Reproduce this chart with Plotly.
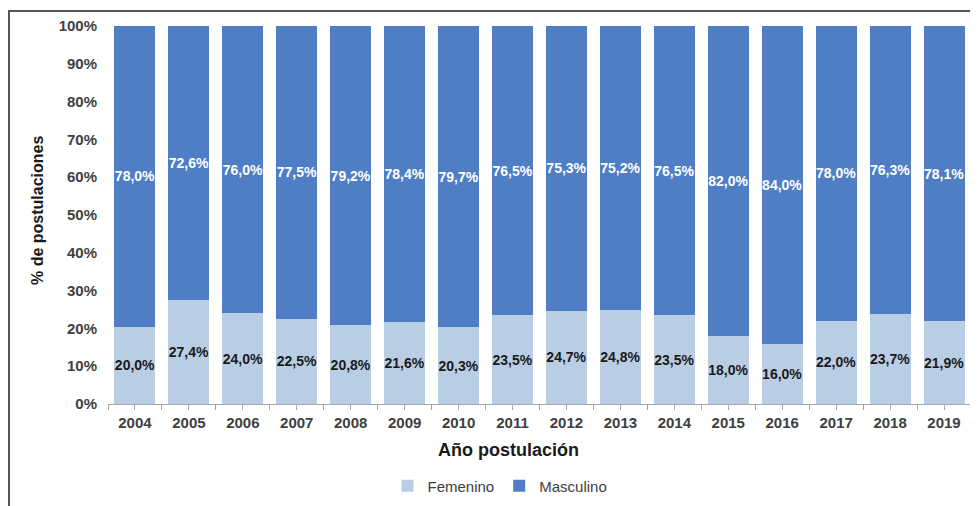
import plotly.graph_objects as go

years = [2004, 2005, 2006, 2007, 2008, 2009, 2010, 2011, 2012, 2013, 2014, 2015, 2016, 2017, 2018, 2019]
femenino = [20.0, 27.4, 24.0, 22.5, 20.8, 21.6, 20.3, 23.5, 24.7, 24.8, 23.5, 18.0, 16.0, 22.0, 23.7, 21.9]
masculino = [78.0, 72.6, 76.0, 77.5, 79.2, 78.4, 79.7, 76.5, 75.3, 75.2, 76.5, 82.0, 84.0, 78.0, 76.3, 78.1]
y_ticks = [0, 10, 20, 30, 40, 50, 60, 70, 80, 90, 100]


def fmt(v):
    return f"{v:.1f}%".replace(".", ",")


FONT = "Liberation Sans, Arial, sans-serif"
OFF = 8  # page body margin of the html page
W, H = 978 - OFF, 506 - OFF
PLOT_L, PLOT_R, PLOT_T, PLOT_B = 108, 971, 26, 404  # page coords
L = PLOT_L - OFF
T = PLOT_T - OFF
R = W - (PLOT_R - OFF)
B = H - (PLOT_B - OFF)
PW = W - L - R
PH = H - T - B


def px(xp):
    return (xp - OFF - L) / PW


def py(yp):
    return ((PLOT_B - OFF) - (yp - OFF)) / PH


fig = go.Figure()
fig.add_trace(go.Bar(
    x=years, y=femenino, name="Femenino",
    marker=dict(color="#B9CDE5", line=dict(width=0)),
    text=[fmt(v) for v in femenino], textposition="inside",
    insidetextanchor="middle", textangle=0, constraintext="none",
    textfont=dict(family=FONT, size=14, color="#1a1a1a", weight="bold"),
    hoverinfo="skip",
))
fig.add_trace(go.Bar(
    x=years, y=masculino, name="Masculino",
    marker=dict(color="#4F7EC4", line=dict(width=0)),
    text=[fmt(v) for v in masculino], textposition="inside",
    insidetextanchor="middle", textangle=0, constraintext="none",
    textfont=dict(family=FONT, size=14, color="white", weight="bold"),
    hoverinfo="skip",
))

fig.update_layout(
    width=W, height=H,
    barmode="stack", barnorm="percent", bargap=0.24,
    margin=dict(l=L, r=R, t=T, b=B, pad=0, autoexpand=False),
    paper_bgcolor="white", plot_bgcolor="white",
    font=dict(family=FONT, color="#404040"),
    showlegend=True,
    legend=dict(
        orientation="h", x=px(500), xanchor="center",
        y=py(486), yanchor="middle", traceorder="normal",
        font=dict(family=FONT, size=15, color="#404040"),
        itemwidth=30, tracegroupgap=0,
    ),
    xaxis=dict(
        range=[2003.5, 2019.5], tickmode="array", tickvals=years,
        ticktext=[str(y) for y in years],
        tickfont=dict(family=FONT, size=15, color="#404040", weight="bold"),
        showgrid=False, zeroline=False,
        showline=True, linecolor="#A6A6A6", linewidth=1,
        ticks="outside", ticklen=5, tickcolor="#A6A6A6",
        minor=dict(ticks="outside", ticklen=5, tickcolor="#A6A6A6",
                   tickmode="array", tickvals=[y - 0.5 for y in years] + [2019.5]),
    ),
    yaxis=dict(
        range=[0, 100], tickmode="array", tickvals=y_ticks,
        ticktext=[f"{v}%" for v in y_ticks],
        tickfont=dict(family=FONT, size=15, color="#404040", weight="bold"),
        showgrid=False, zeroline=False, showline=False,
        ticks="", ticklabelstandoff=10,
    ),
    annotations=[
        dict(text="% de postulaciones", xref="paper", yref="paper",
             x=px(37), y=py(211), textangle=-90,
             showarrow=False, xanchor="center", yanchor="middle",
             font=dict(family=FONT, size=16, color="#1a1a1a", weight="bold")),
        dict(text="Año postulación", xref="paper", yref="paper",
             x=px(508), y=py(450),
             showarrow=False, xanchor="center", yanchor="middle",
             font=dict(family=FONT, size=18, color="#1a1a1a", weight="bold")),
    ],
    shapes=[
        dict(type="line", xref="paper", yref="paper", layer="above",
             x0=px(9), x1=px(9), y0=py(10), y1=py(530),
             line=dict(color="#555555", width=2)),
        dict(type="line", xref="paper", yref="paper", layer="above",
             x0=px(8), x1=px(977), y0=py(11), y1=py(11),
             line=dict(color="#555555", width=2)),
    ],
)

fig.write_html("out.html", config={"displayModeBar": False})
